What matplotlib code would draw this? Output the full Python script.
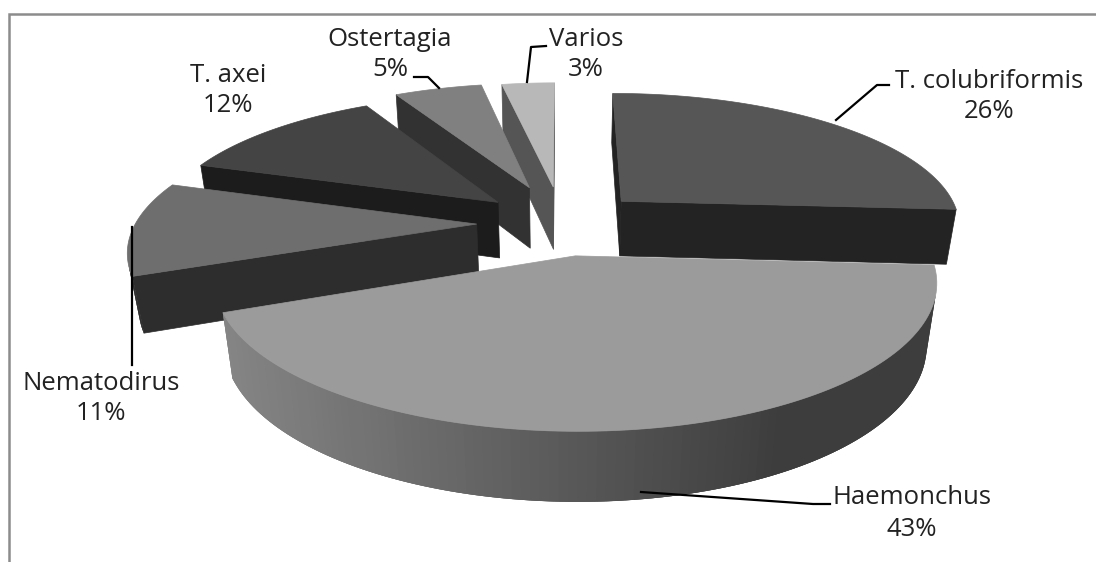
import numpy as np
import matplotlib
matplotlib.use('Agg')
import matplotlib.pyplot as plt
from matplotlib.patches import Polygon

labels = ['T. colubriformis', 'Haemonchus', 'Nematodirus', 'T. axei', 'Ostertagia', 'Varios']
values = [26, 43, 11, 12, 5, 3]

# exploded pie styling, one entry per slice
explode = [0.245, 0.24, 0.25, 0.25, 0.295, 0.285]
wall = [57, 63, 56, 58, 64, 66]
top_colors = ['#565656', '#9b9b9b', '#6e6e6e', '#444444', '#808080', '#b8b8b8']
wall_colors = ['#232323', '#666666', '#2d2d2d', '#1c1c1c', '#323232', '#555555']
draw_order = [5, 4, 3, 2, 0, 1]

label_pos = [(989, 81), (912, 498), (101, 383), (228, 75), (390, 39), (586, 39)]
leaders = [
    [(836, 120), (877, 85), (889, 85)],
    [(641, 492), (813, 504), (830, 504)],
    [(132, 227), (132, 365)],
    None,
    [(414, 77), (428, 77), (439, 88)],
    [(527, 82), (531, 47), (546, 46)],
]

# camera
cx, cy, S = 562, 223, 341
tilt, persp, drop = 0.39, 0.17, 0.026


def project(X, Y, d, h):
    w = 1 + persp * Y + drop * d
    return np.c_[cx + S * X / w, cy + (-S * tilt * Y + h * d) / w]


def area(p):
    x, y = p[:, 0], p[:, 1]
    return 0.5 * np.sum(x * np.roll(y, -1) - np.roll(x, -1) * y)


fig = plt.figure(figsize=(10.96, 5.62), dpi=100)
ax = fig.add_axes([0, 0, 1, 1])
ax.set_xlim(0, 1096)
ax.set_ylim(562, 0)
ax.axis('off')

# outer frame, only top and left are visible in the crop
ax.plot([9, 9, 1096], [562, 14, 14], color='#8c8c8c', lw=1.8, solid_joinstyle='miter')

fracs = np.array(values) / sum(values)
edges = np.r_[0, np.cumsum(fracs)] * 2 * np.pi

for i in draw_order:
    a0, a1 = edges[i], edges[i + 1]
    mid = 0.5 * (a0 + a1)
    x0, y0 = explode[i] * np.sin(mid), explode[i] * np.cos(mid)
    th = np.linspace(a0, a1, 121)
    X, Y = x0 + np.sin(th), y0 + np.cos(th)

    # cut faces, keep the ones turned to the viewer
    for a, sign in [(a0, 1), (a1, -1)]:
        xs = np.array([x0, x0 + np.sin(a)])
        ys = np.array([y0, y0 + np.cos(a)])
        face = np.r_[project(xs, ys, 0, wall[i]), project(xs, ys, 1, wall[i])[::-1]]
        if sign * area(face) < 0:
            ax.add_patch(Polygon(face, fc=wall_colors[i], ec=wall_colors[i], lw=0.5))

    # outer wall, Haemonchus has a left to right gradient
    top = project(X, Y, 0, wall[i])
    bot = project(X, Y, 1, wall[i])
    for k in range(len(th) - 1):
        quad = np.array([top[k], top[k + 1], bot[k + 1], bot[k]])
        if area(quad) >= 0:
            continue
        # run the strip on to the next step so no seams show
        j = min(k + 3, len(th) - 1)
        strip = np.array([top[k], top[j], bot[j], bot[k]])
        c = wall_colors[i]
        if i == 1:
            u = np.clip((quad[:, 0].mean() - 230) / 550, 0, 1)
            g = 0.52 - 0.28 * u
            c = (g, g, g)
        ax.add_patch(Polygon(strip, fc=c, ec='none', lw=0))

    # top face
    poly = np.r_[project(np.array([x0]), np.array([y0]), 0, wall[i]), top]
    ax.add_patch(Polygon(poly, fc=top_colors[i], ec=top_colors[i], lw=0.5))

for pts in leaders:
    if pts:
        ax.plot(*zip(*pts), color='black', lw=1.6)

for name, v, (x, y) in zip(labels, values, label_pos):
    ax.text(x, y, name, ha='center', va='center', fontsize=18.5, family='Open Sans', color='#222222')
    ax.text(x, y + 31, f'{v}%', ha='center', va='center', fontsize=18.5, family='Open Sans', color='#222222')

fig.savefig('out.png', dpi=100)
